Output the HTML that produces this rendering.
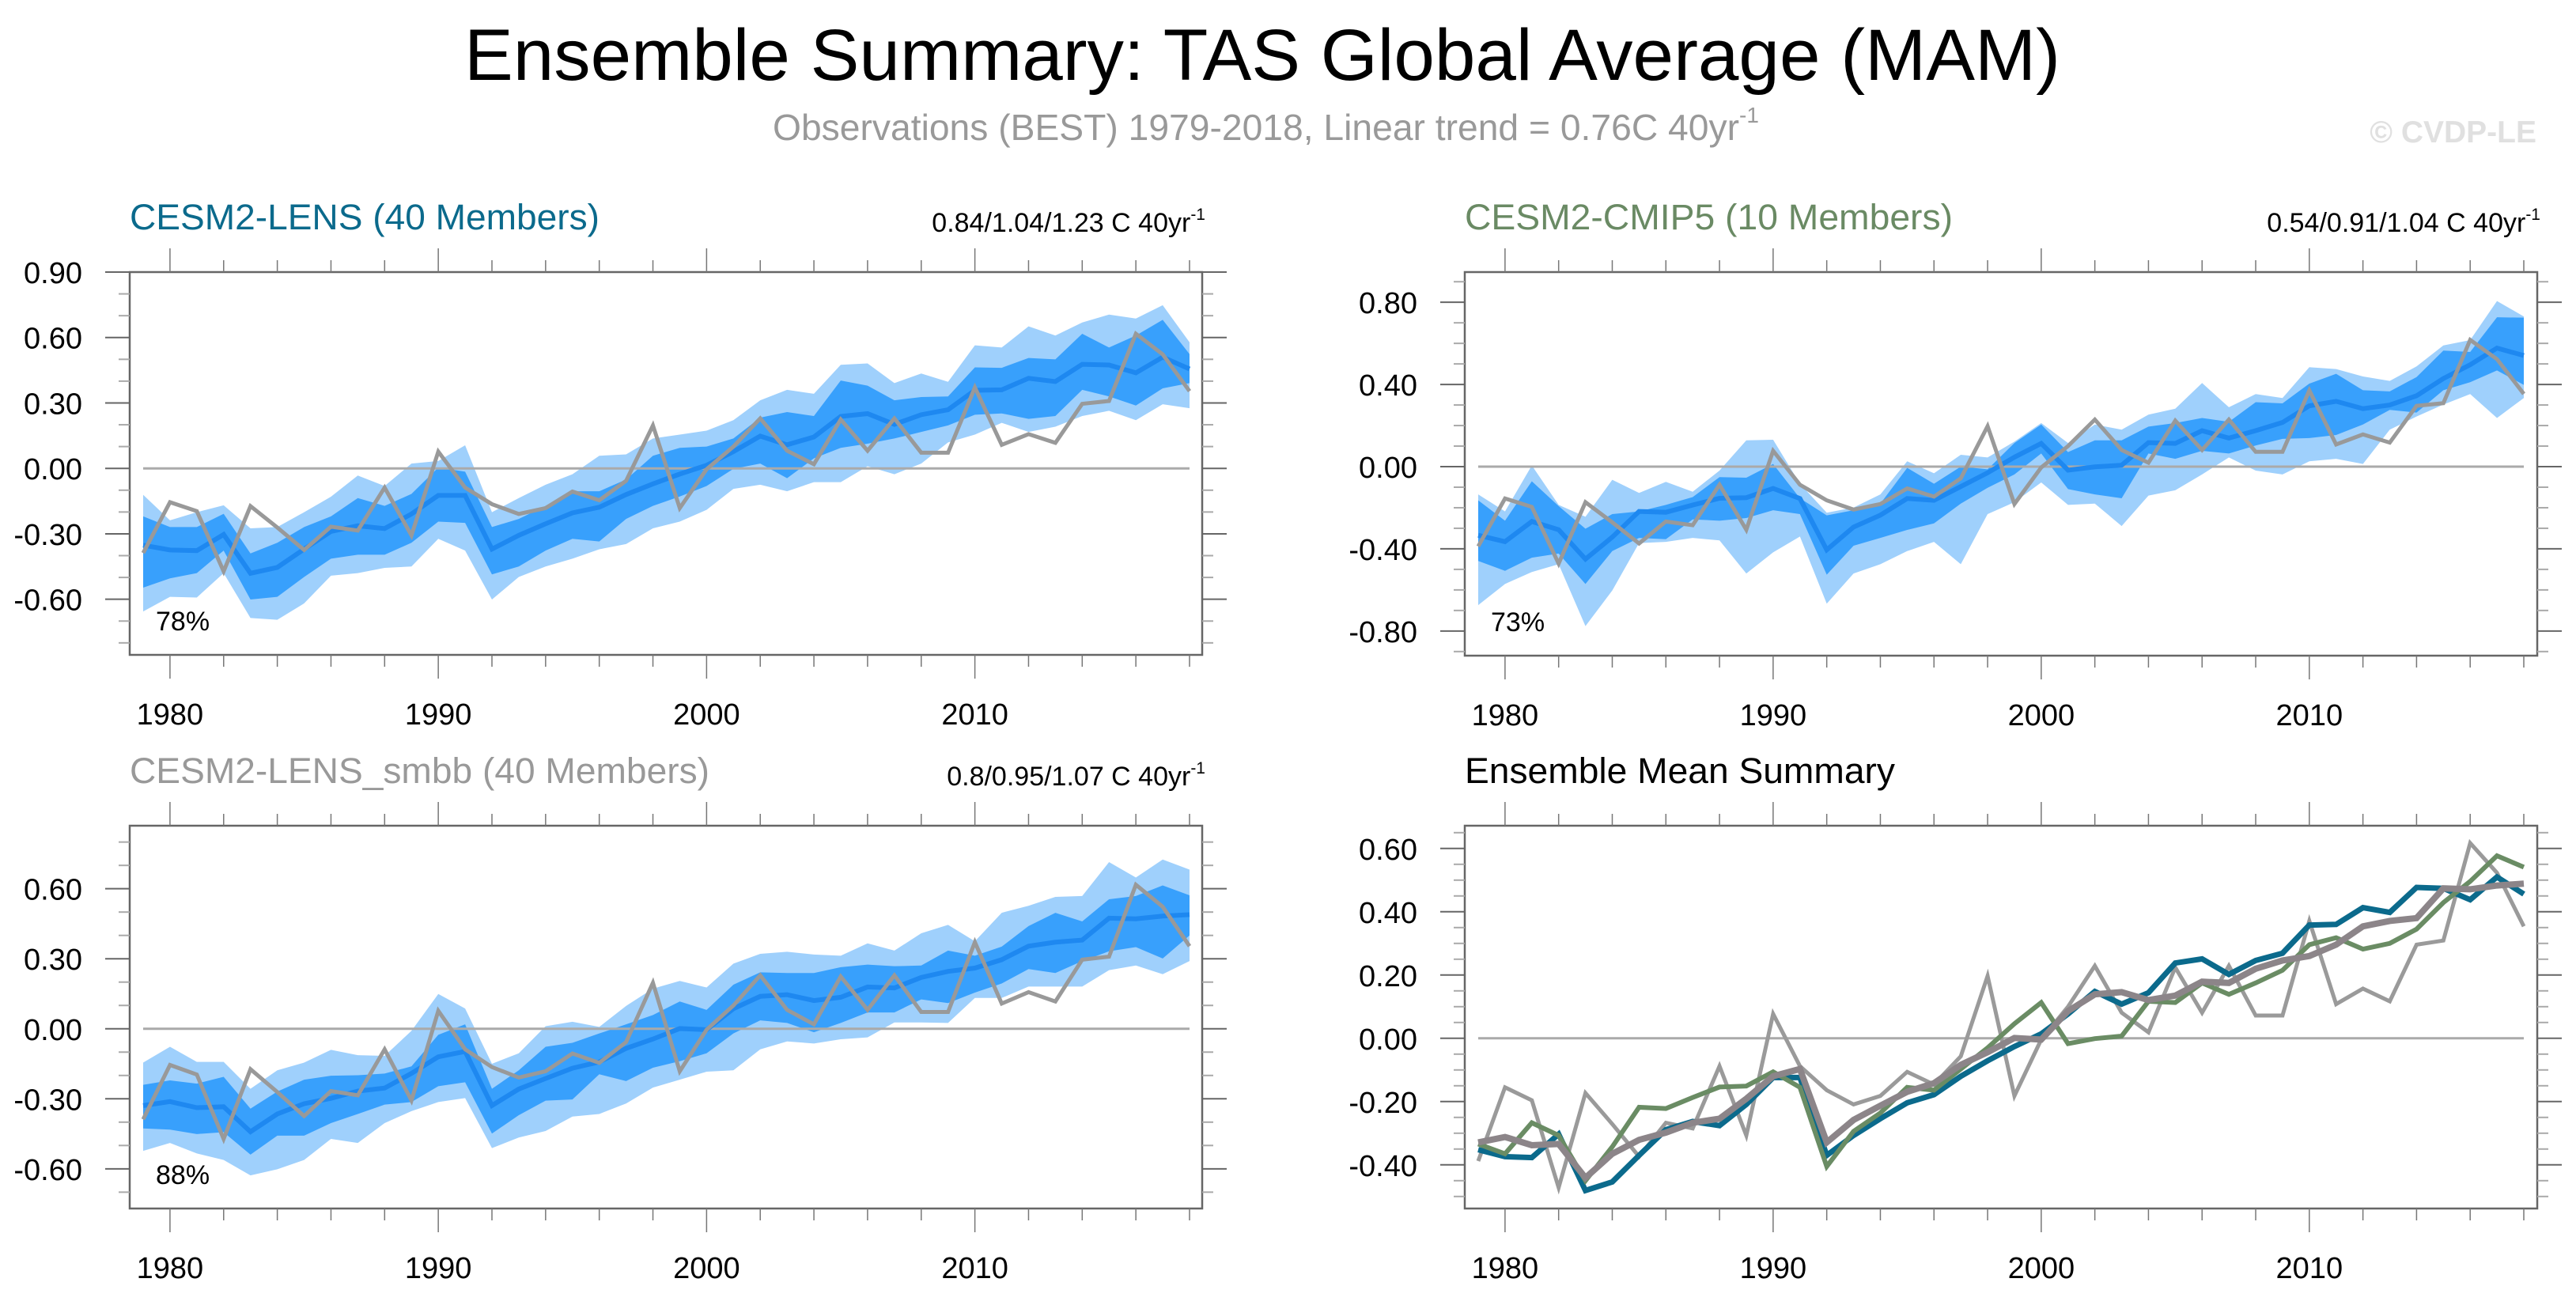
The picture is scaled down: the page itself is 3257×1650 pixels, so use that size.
<!DOCTYPE html>
<html><head><meta charset="utf-8"><style>
html,body{margin:0;padding:0;background:#fff;}
svg{display:block;font-family:"Liberation Sans",Arial,sans-serif;}
</style></head><body>
<svg id="fig" width="3257" height="1650" viewBox="0 0 3257 1650" xmlns="http://www.w3.org/2000/svg">
<text x="1596" y="101" font-size="92" text-anchor="middle" textLength="2018" lengthAdjust="spacingAndGlyphs" fill="#000">Ensemble Summary: TAS Global Average (MAM)</text>
<text x="977" y="177" font-size="46" fill="#999"><tspan textLength="1222" lengthAdjust="spacingAndGlyphs">Observations (BEST) 1979-2018, Linear trend = 0.76C 40yr</tspan><tspan dy="-22" font-size="28">-1</tspan></text>
<text x="3207" y="180" font-size="39" font-weight="bold" text-anchor="end" fill="#e0e0e0">© CVDP-LE</text>
<g id="panels"></g>
</svg>
<script>
const years = Array.from({length:40},(_,i)=>1979+i);
const obs = [-0.388,-0.155,-0.196,-0.472,-0.173,-0.271,-0.374,-0.267,-0.285,-0.088,-0.307,0.077,-0.088,-0.164,-0.209,-0.182,-0.106,-0.146,-0.057,0.197,-0.182,-0.004,0.10,0.229,0.081,0.019,0.224,0.081,0.229,0.072,0.072,0.371,0.108,0.157,0.117,0.296,0.309,0.617,0.523,0.354];
const lensMean = [-0.352,-0.374,-0.377,-0.303,-0.481,-0.454,-0.370,-0.289,-0.263,-0.276,-0.209,-0.124,-0.124,-0.370,-0.307,-0.254,-0.204,-0.178,-0.120,-0.071,-0.026,0.014,0.077,0.148,0.108,0.144,0.238,0.251,0.202,0.246,0.269,0.358,0.360,0.413,0.398,0.477,0.474,0.438,0.510,0.456];
const cmipMean = [-0.334,-0.365,-0.267,-0.307,-0.450,-0.343,-0.218,-0.222,-0.187,-0.154,-0.151,-0.106,-0.155,-0.405,-0.294,-0.236,-0.155,-0.164,-0.097,-0.030,0.046,0.113,-0.017,-0.001,0.007,0.117,0.113,0.175,0.139,0.175,0.215,0.296,0.318,0.282,0.300,0.345,0.429,0.496,0.577,0.541];
const smbbMean = [-0.329,-0.312,-0.338,-0.334,-0.441,-0.365,-0.321,-0.298,-0.267,-0.254,-0.191,-0.120,-0.097,-0.329,-0.258,-0.213,-0.169,-0.142,-0.084,-0.044,0.001,-0.004,0.086,0.139,0.146,0.121,0.135,0.179,0.175,0.220,0.246,0.260,0.296,0.354,0.371,0.380,0.474,0.471,0.483,0.489];
const lensHi90 = [-0.121,-0.238,-0.201,-0.169,-0.275,-0.269,-0.201,-0.130,-0.033,-0.081,0.022,0.034,0.106,-0.201,-0.136,-0.075,-0.027,0.058,0.064,0.137,0.155,0.173,0.221,0.312,0.360,0.342,0.475,0.481,0.391,0.435,0.397,0.564,0.554,0.651,0.609,0.669,0.705,0.687,0.748,0.578];
const lensHi75 = [-0.220,-0.269,-0.269,-0.208,-0.390,-0.341,-0.269,-0.220,-0.136,-0.172,-0.117,0.004,-0.015,-0.269,-0.232,-0.172,-0.105,-0.105,-0.051,0.058,0.094,0.100,0.137,0.233,0.258,0.240,0.403,0.379,0.312,0.327,0.330,0.463,0.461,0.506,0.500,0.617,0.554,0.609,0.681,0.524];
const lensLo25 = [-0.547,-0.504,-0.480,-0.377,-0.601,-0.589,-0.498,-0.414,-0.396,-0.396,-0.341,-0.244,-0.250,-0.486,-0.450,-0.377,-0.323,-0.335,-0.232,-0.172,-0.129,-0.081,-0.002,0.022,-0.045,0.046,0.094,0.113,0.137,0.167,0.197,0.246,0.252,0.227,0.240,0.360,0.330,0.288,0.367,0.391];
const lensLo10 = [-0.656,-0.589,-0.592,-0.480,-0.686,-0.694,-0.619,-0.492,-0.480,-0.456,-0.450,-0.323,-0.377,-0.601,-0.498,-0.450,-0.414,-0.371,-0.347,-0.275,-0.244,-0.190,-0.094,-0.075,-0.105,-0.063,-0.063,0.010,-0.027,0.022,0.119,0.155,0.209,0.167,0.191,0.240,0.264,0.221,0.294,0.276];
const cmipHi90 = [-0.135,-0.218,0.006,-0.186,-0.244,-0.064,-0.128,-0.074,-0.122,-0.019,0.128,0.131,-0.083,-0.224,-0.199,-0.135,0.026,-0.032,0.058,0.045,0.122,0.212,0.115,0.205,0.180,0.253,0.282,0.407,0.289,0.353,0.334,0.484,0.475,0.439,0.417,0.488,0.590,0.616,0.806,0.731];
const cmipHi75 = [-0.164,-0.263,-0.071,-0.192,-0.302,-0.231,-0.218,-0.186,-0.148,-0.051,-0.054,0.013,-0.154,-0.237,-0.212,-0.180,-0.006,-0.083,0.000,-0.013,0.115,0.205,0.071,0.128,0.128,0.195,0.212,0.237,0.218,0.314,0.308,0.404,0.452,0.372,0.366,0.436,0.565,0.558,0.727,0.725];
const cmipLo25 = [-0.459,-0.507,-0.443,-0.423,-0.571,-0.411,-0.347,-0.353,-0.257,-0.263,-0.250,-0.212,-0.231,-0.526,-0.385,-0.347,-0.308,-0.276,-0.180,-0.103,-0.038,0.064,-0.109,-0.135,-0.154,0.064,0.038,0.077,0.064,0.103,0.135,0.139,0.154,0.205,0.276,0.263,0.372,0.411,0.468,0.398];
const cmipLo10 = [-0.674,-0.571,-0.513,-0.475,-0.776,-0.603,-0.372,-0.366,-0.347,-0.359,-0.520,-0.417,-0.340,-0.667,-0.520,-0.475,-0.411,-0.366,-0.475,-0.231,-0.173,-0.077,-0.186,-0.180,-0.289,-0.141,-0.115,-0.038,0.045,-0.019,-0.038,0.026,0.038,0.013,0.180,0.244,0.302,0.353,0.237,0.334];
const smbbHi90 = [-0.145,-0.077,-0.142,-0.142,-0.257,-0.178,-0.145,-0.090,-0.113,-0.116,-0.009,0.149,0.087,-0.150,-0.105,0.011,0.030,0.008,0.098,0.172,0.205,0.177,0.279,0.321,0.330,0.318,0.313,0.366,0.335,0.409,0.445,0.375,0.497,0.527,0.565,0.569,0.714,0.648,0.725,0.682];
const smbbHi75 = [-0.240,-0.221,-0.235,-0.206,-0.342,-0.269,-0.218,-0.201,-0.199,-0.192,-0.161,-0.026,0.019,-0.257,-0.178,-0.077,-0.060,-0.020,0.019,0.059,0.117,0.081,0.189,0.242,0.239,0.239,0.264,0.275,0.268,0.271,0.335,0.313,0.352,0.440,0.497,0.460,0.555,0.569,0.614,0.572];
const smbbLo25 = [-0.427,-0.432,-0.451,-0.443,-0.539,-0.458,-0.458,-0.404,-0.365,-0.325,-0.314,-0.246,-0.229,-0.449,-0.370,-0.308,-0.303,-0.195,-0.224,-0.167,-0.139,-0.105,-0.020,0.036,0.025,-0.015,0.025,0.070,0.070,0.126,0.110,0.155,0.194,0.256,0.239,0.290,0.332,0.350,0.301,0.400];
const smbbLo10 = [-0.523,-0.489,-0.534,-0.562,-0.628,-0.602,-0.562,-0.472,-0.489,-0.404,-0.353,-0.314,-0.297,-0.511,-0.466,-0.438,-0.376,-0.365,-0.320,-0.252,-0.218,-0.184,-0.178,-0.088,-0.054,-0.063,-0.045,-0.037,0.027,0.027,0.025,0.132,0.132,0.181,0.181,0.181,0.251,0.271,0.234,0.290];
const p1Ticks = ["-0.60","-0.30","0.00","0.30","0.60","0.90"];
const p2Ticks = ["-0.80","-0.40","0.00","0.40","0.80"];
const p3Ticks = ["-0.60","-0.30","0.00","0.30","0.60"];
const p4Ticks = ["-0.40","-0.20","0.00","0.20","0.40","0.60"];
const xTickLabels = ["1980","1990","2000","2010"];

const NS="http://www.w3.org/2000/svg";
const root=document.getElementById('panels');
function mk(tag,attrs,parent){const e=document.createElementNS(NS,tag);for(const k in attrs)e.setAttribute(k,attrs[k]);(parent||root).appendChild(e);return e;}

function panel(c){
  const g=mk('g',{});
  
  
  const X=y=>c.x0+(y-1979)*(c.x1-c.x0)/39;
  const Y=v=>c.top+(c.ymax-v)*(c.bot-c.top)/(c.ymax-c.ymin);
  const clip='clip-'+c.name;
  const cp=mk('clipPath',{id:clip},g);mk('rect',{x:c.L,y:c.top,width:c.R-c.L,height:c.bot-c.top},cp);
  const plot=mk('g',{'clip-path':'url(#'+clip+')'},g);
  function band(hi,lo,color,nm){
    let d='M'+years.map((y,i)=>X(y)+','+Y(hi[i])).join('L');
    for(let i=39;i>=0;i--)d+='L'+X(years[i])+','+Y(lo[i]);
    const p=mk('path',{d:d+'Z',fill:color},plot);
    
    
  }
  function line(arr,color,w,nm){
    const p=mk('polyline',{points:years.map((y,i)=>X(y)+','+Y(arr[i])).join(' '),fill:'none',stroke:color,'stroke-width':w,'stroke-linejoin':'miter'},plot);
    
    
  }
  if(c.bands){band(c.bands[0],c.bands[3],'#9fd0fc','band-10-90');band(c.bands[1],c.bands[2],'#38a0fc','band-25-75');}
  const z=mk('line',{x1:X(1979),x2:X(2018),y1:Y(0),y2:Y(0),stroke:'#aaa','stroke-width':3},plot);
  
  
  c.lines.forEach(l=>line(l[0],l[1],l[2],l[3]));
  const fr=mk('rect',{x:c.L,y:c.top,width:c.R-c.L,height:c.bot-c.top,fill:'none',stroke:'#666','stroke-width':2.5},g);
  
  
  for(let yr=1980;yr<=2018;yr+=2){
    const len=(yr%10===0)?30:15;const x=X(yr);
    mk('line',{x1:x,x2:x,y1:c.top,y2:c.top-len,stroke:'#777','stroke-width':1.5},g);
    mk('line',{x1:x,x2:x,y1:c.bot,y2:c.bot+len,stroke:'#777','stroke-width':1.5},g);
  }
  xTickLabels.forEach(s=>{
    const t=mk('text',{x:X(+s),y:c.bot+88,'font-size':38,'text-anchor':'middle',fill:'#000'},g);t.textContent=s;
    
    
  });
  for(let k=Math.ceil(c.ymin/c.minor-1e-6);k*c.minor<=c.ymax+1e-6;k++){
    const v=k*c.minor;const yy=Y(v);
    const major=Math.abs(v/c.major-Math.round(v/c.major))<1e-6;const len=major?31:14;
    mk('line',{x1:c.L,x2:c.L-len,y1:yy,y2:yy,stroke:major?'#666':'#aaa','stroke-width':2},g);
    mk('line',{x1:c.R,x2:c.R+len,y1:yy,y2:yy,stroke:major?'#666':'#aaa','stroke-width':2},g);
  }
  c.ticks.forEach(s=>{
    const t=mk('text',{x:c.L-60,y:Y(+s)+14,'font-size':38,'text-anchor':'end',fill:'#000'},g);t.textContent=s;
    
    
  });
  const tt=mk('text',{x:c.L,y:c.top-54,'font-size':45,fill:c.tcolor,textLength:c.tlen,lengthAdjust:'spacingAndGlyphs'},g);tt.textContent=c.title;
  
  
  if(c.trend){
    const tr=mk('text',{x:c.R+4,y:c.top-51,'font-size':34,'text-anchor':'end',fill:'#000'},g);
    tr.textContent=c.trend;
    const sp=mk('tspan',{dy:-15,'font-size':21},tr);sp.textContent='-1';
    
    
  }
  if(c.pct){
    const pt=mk('text',{x:c.L+33,y:c.bot-31,'font-size':34,fill:'#000'},g);pt.textContent=c.pct;
    
    
  }
}
panel({name:'panel-cesm2-lens',L:164,R:1520,top:344,bot:828,x0:181,x1:1504,ymin:-0.855,ymax:0.90,major:0.3,minor:0.1,ticks:p1Ticks,
  bands:[lensHi90,lensHi75,lensLo25,lensLo10],lines:[[lensMean,'#1e88f0',6,'ensemble-mean-line'],[obs,'#999',5,'obs-line']],
  title:'CESM2-LENS (40 Members)',tlen:594,tcolor:'#0b6a8c',trend:'0.84/1.04/1.23 C 40yr',pct:'78%'});
panel({name:'panel-cesm2-cmip5',L:1852,R:3208,top:344,bot:829,x0:1869,x1:3191,ymin:-0.920,ymax:0.947,major:0.4,minor:0.1,ticks:p2Ticks,
  bands:[cmipHi90,cmipHi75,cmipLo25,cmipLo10],lines:[[cmipMean,'#1e88f0',6,'ensemble-mean-line'],[obs,'#999',5,'obs-line']],
  title:'CESM2-CMIP5 (10 Members)',tlen:617,tcolor:'#6a8a64',trend:'0.54/0.91/1.04 C 40yr',pct:'73%'});
panel({name:'panel-cesm2-lens-smbb',L:164,R:1520,top:1044,bot:1528,x0:181,x1:1504,ymin:-0.770,ymax:0.870,major:0.3,minor:0.1,ticks:p3Ticks,
  bands:[smbbHi90,smbbHi75,smbbLo25,smbbLo10],lines:[[smbbMean,'#1e88f0',6,'ensemble-mean-line'],[obs,'#999',5,'obs-line']],
  title:'CESM2-LENS_smbb (40 Members)',tlen:733,tcolor:'#999',trend:'0.8/0.95/1.07 C 40yr',pct:'88%'});
panel({name:'panel-ensemble-mean-summary',L:1852,R:3208,top:1044,bot:1528,x0:1869,x1:3191,ymin:-0.538,ymax:0.672,major:0.2,minor:0.05,ticks:p4Ticks,
  bands:null,lines:[[obs,'#9a9a9a',5,'obs-line'],[lensMean,'#0b6a8c',7,'lens-mean-line'],[cmipMean,'#6a8c64',6,'cmip5-mean-line'],[smbbMean,'#8c8589',8,'smbb-mean-line']],
  title:'Ensemble Mean Summary',tlen:544,tcolor:'#000',trend:null,pct:null});
</script>
</body></html>
